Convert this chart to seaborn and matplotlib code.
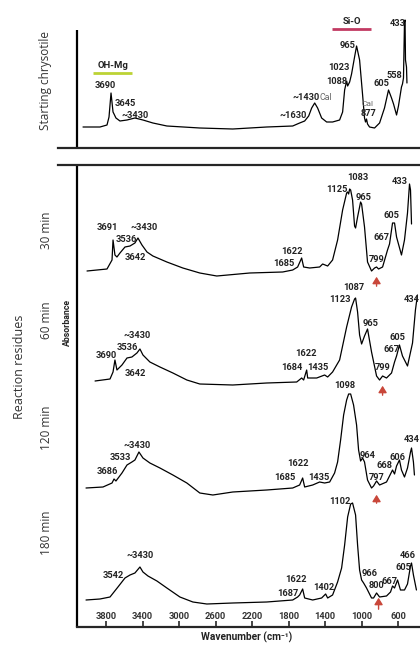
import pandas as pd
import matplotlib
matplotlib.use("Agg")
import matplotlib.pyplot as plt
import seaborn as sns

# wavenumber (cm-1) and absorbance (a.u., from each spectrum's own baseline)
top_wn = [4052, 3866, 3789, 3767, 3745, 3723, 3712, 3691, 3647, 3570, 3483, 3395, 3286, 3133, 2772, 2411, 2039,
          1754, 1678, 1623, 1579, 1546, 1513, 1481, 1437, 1382, 1317, 1240, 1207, 1185, 1163, 1152, 1130, 1109,
          1076, 1054, 1021, 988, 967, 956, 945, 934, 912, 857, 802, 748, 704, 671, 649, 616, 595, 562, 551, 540,
          529, 523, 518, 507, 502]
top_abs = [0.00, 0.00, 0.02, 0.10, 0.34, 0.15, 0.13, 0.09, 0.06, 0.07, 0.09, 0.07, 0.04, 0.01, -0.01, -0.02, 0.00,
           0.01, 0.04, 0.06, 0.11, 0.19, 0.24, 0.19, 0.09, 0.05, 0.05, 0.07, 0.15, 0.37, 0.46, 0.41, 0.45, 0.53,
           0.70, 0.81, 0.67, 0.32, 0.09, 0.05, 0.08, 0.03, 0.00, -0.01, 0.04, 0.19, 0.37, 0.29, 0.23, 0.12, 0.21,
           0.40, 0.43, 0.49, 1.05, 1.07, 0.67, 0.60, 0.44]

m30_wn = [4008, 3789, 3734, 3723, 3702, 3680, 3647, 3592, 3537, 3483, 3450, 3406, 3351, 3286, 3133, 2958, 2772,
          2586, 2225, 1864, 1754, 1700, 1656, 1634, 1568, 1459, 1426, 1371, 1317, 1262, 1207, 1163, 1152, 1141,
          1130, 1119, 1098, 1076, 1065, 1043, 1010, 999, 967, 934, 890, 857, 835, 813, 769, 715, 693, 660, 638,
          616, 562, 529, 496, 474, 463, 452]
m30_abs = [0.00, 0.02, 0.11, 0.31, 0.16, 0.14, 0.18, 0.24, 0.25, 0.28, 0.33, 0.26, 0.19, 0.15, 0.09, 0.03, -0.02,
           -0.05, -0.02, -0.01, 0.01, 0.04, 0.13, 0.04, 0.03, 0.04, 0.07, 0.05, 0.11, 0.31, 0.61, 0.78, 0.79, 0.77,
           0.82, 0.81, 0.71, 0.45, 0.43, 0.54, 0.69, 0.67, 0.44, 0.09, 0.00, 0.03, 0.04, 0.02, 0.04, 0.21, 0.27,
           0.48, 0.48, 0.34, 0.16, 0.31, 0.58, 0.87, 0.81, 0.47]

m60_wn = [3920, 3756, 3723, 3702, 3680, 3625, 3570, 3516, 3461, 3428, 3395, 3319, 3209, 3067, 2914, 2772, 2411,
          2039, 1710, 1656, 1634, 1601, 1590, 1491, 1404, 1371, 1317, 1240, 1163, 1109, 1076, 1065, 1043, 1021,
          999, 967, 934, 890, 835, 802, 769, 726, 671, 638, 616, 584, 551, 496, 441, 409, 387]
m60_abs = [0.00, 0.02, 0.09, 0.21, 0.11, 0.16, 0.23, 0.24, 0.28, 0.32, 0.26, 0.19, 0.14, 0.08, 0.01, -0.03, -0.04,
           -0.02, -0.01, 0.03, 0.01, 0.11, 0.03, 0.03, 0.06, 0.04, 0.09, 0.21, 0.54, 0.74, 0.82, 0.83, 0.69, 0.46,
           0.37, 0.45, 0.52, 0.29, 0.05, 0.01, 0.05, 0.03, 0.08, 0.19, 0.25, 0.36, 0.25, 0.15, 0.38, 0.71, 0.86]

m120_wn = [4019, 3833, 3734, 3712, 3691, 3625, 3570, 3516, 3483, 3439, 3395, 3319, 3209, 3067, 2914, 2772, 2629,
           2411, 2039, 1754, 1678, 1645, 1623, 1535, 1459, 1404, 1349, 1295, 1262, 1229, 1196, 1163, 1141, 1119,
           1087, 1054, 1032, 1010, 988, 967, 934, 890, 868, 835, 802, 726, 682, 660, 638, 616, 584, 562, 529, 496,
           463, 452, 431, 420]
m120_abs = [0.00, 0.01, 0.05, 0.09, 0.07, 0.15, 0.23, 0.26, 0.28, 0.36, 0.30, 0.25, 0.20, 0.13, 0.05, -0.05, -0.07,
            -0.04, -0.02, 0.00, 0.03, 0.10, 0.01, 0.03, 0.06, 0.05, 0.06, 0.15, 0.26, 0.48, 0.73, 0.88, 0.94, 0.94,
            0.83, 0.63, 0.38, 0.27, 0.30, 0.26, 0.08, 0.00, 0.02, 0.07, 0.03, 0.06, 0.14, 0.18, 0.14, 0.22, 0.28,
            0.18, 0.11, 0.20, 0.36, 0.40, 0.26, 0.13]

m180_wn = [4019, 3866, 3756, 3669, 3592, 3537, 3483, 3428, 3395, 3340, 3242, 3133, 2990, 2848, 2695, 2411, 2039,
           1754, 1700, 1678, 1645, 1623, 1535, 1437, 1393, 1371, 1317, 1262, 1218, 1185, 1152, 1119, 1098, 1065,
           1043, 1021, 999, 977, 945, 890, 868, 835, 802, 726, 682, 660, 638, 605, 573, 529, 496, 463, 452, 431, 398]
m180_abs = [0.00, 0.01, 0.03, 0.13, 0.22, 0.25, 0.27, 0.33, 0.28, 0.24, 0.19, 0.12, 0.03, -0.02, -0.04, -0.03, -0.02,
            0.00, 0.03, 0.05, 0.11, 0.02, 0.00, 0.02, 0.06, 0.02, 0.05, 0.18, 0.32, 0.55, 0.83, 0.96, 0.97, 0.85,
            0.55, 0.30, 0.20, 0.17, 0.12, 0.02, 0.02, 0.07, 0.03, 0.04, 0.08, 0.14, 0.12, 0.20, 0.10, 0.10, 0.16,
            0.34, 0.37, 0.25, 0.10]

x_ticks = [3800, 3400, 3000, 2600, 2200, 1800, 1400, 1000, 600]

# peak labels: (text, wavenumber, height in panel units)
top_labels = [("3690", 3811, 0.63), ("3645", 3592, 0.44), ("~3430", 3483, 0.33), ("~1630", 1754, 0.33),
              ("1023", 1251, 0.80), ("1088", 1273, 0.67), ("965", 1152, 1.02), ("877", 923, 0.34),
              ("605", 780, 0.64), ("558", 638, 0.73), ("433", 605, 1.24)]
m30_labels = [("3691", 3789, 4.00), ("~3430", 3384, 4.00), ("3536", 3581, 3.88), ("3642", 3483, 3.70),
              ("1622", 1765, 3.76), ("1685", 1853, 3.64), ("1125", 1273, 4.38), ("1083", 1043, 4.49),
              ("965", 978, 4.30), ("433", 584, 4.45), ("605", 671, 4.12), ("667", 780, 3.89), ("799", 835, 3.68)]
m60_labels = [("1087", 1087, 3.40), ("1123", 1240, 3.27), ("434", 452, 3.27), ("965", 901, 3.03),
              ("605", 605, 2.90), ("667", 671, 2.78), ("799", 769, 2.60), ("~3430", 3461, 2.91),
              ("3690", 3800, 2.72), ("3536", 3570, 2.79), ("3642", 3483, 2.54), ("1622", 1612, 2.73),
              ("1684", 1765, 2.60), ("1435", 1481, 2.60)]
m120_labels = [("1098", 1185, 2.42), ("~3430", 3461, 1.81), ("3533", 3647, 1.69), ("3686", 3789, 1.56),
               ("1622", 1700, 1.63), ("1685", 1842, 1.50), ("1435", 1470, 1.50), ("964", 934, 1.71),
               ("668", 748, 1.62), ("797", 835, 1.50), ("606", 605, 1.70), ("434", 452, 1.87)]
m180_labels = [("1102", 1240, 1.26), ("~3430", 3428, 0.71), ("3542", 3723, 0.52), ("1622", 1722, 0.47),
               ("1687", 1809, 0.34), ("1402", 1415, 0.40), ("966", 912, 0.53), ("800", 835, 0.41),
               ("667", 693, 0.46), ("605", 540, 0.59), ("466", 496, 0.72)]
# red arrows under the ~799 band: (wavenumber, tail, head)
arrows = [(835, 3.38, 3.53), (769, 2.29, 2.44), (835, 1.21, 1.35), (813, 0.15, 0.32)]

sns.set_style("white")
plt.rcParams['font.family'] = ['Roboto', 'DejaVu Sans']

fig = plt.figure(figsize=(4.2, 6.45), dpi=100)
ax_top = fig.add_axes([58 / 420, 1 - 148 / 645, 362 / 420, 148 / 645])
ax_bot = fig.add_axes([58 / 420, 1 - 627 / 645, 362 / 420, (627 - 165) / 645])

spectra = [(ax_top, top_wn, top_abs, 0.21), (ax_bot, m30_wn, m30_abs, 3.56), (ax_bot, m60_wn, m60_abs, 2.46),
           (ax_bot, m120_wn, m120_abs, 1.39), (ax_bot, m180_wn, m180_abs, 0.27)]
for ax, wn, ab, off in spectra:
    df = pd.DataFrame({'wavenumber': wn, 'absorbance': [a + off for a in ab]})
    sns.lineplot(data=df, x='wavenumber', y='absorbance', ax=ax, color='black', lw=0.9,
                 sort=False, estimator=None)

for ax in (ax_top, ax_bot):
    ax.set_xlim(4326, 359)
    ax.set_xlabel('')
    ax.set_ylabel('')
    ax.set_yticks([])
    ax.patch.set_alpha(0)
    for s in ('left', 'right'):
        ax.spines[s].set_visible(False)
ax_top.set_ylim(0, 1.48)
ax_bot.set_ylim(0, 4.62)

ax_top.set_xticks([])
ax_top.spines['top'].set_visible(False)
ax_top.spines['bottom'].set_linewidth(1.6)
ax_top.vlines(4118, 0, 1.18, color='black', lw=1.6)

ax_bot.spines['top'].set_linewidth(1.6)
ax_bot.spines['bottom'].set_linewidth(1.6)
ax_bot.spines['bottom'].set_bounds(4118, 359)
ax_bot.axvline(4118, color='black', lw=1.6)
ax_bot.set_xticks(x_ticks)
ax_bot.set_xticklabels([str(t) for t in x_ticks])
ax_bot.tick_params(axis='x', direction='in', length=4, width=1.2, pad=-10.5, labelsize=6.7,
                   labelcolor='#333333', bottom=True)
for lab in ax_bot.get_xticklabels():
    lab.set_fontweight('bold')

lab_kw = dict(fontsize=6.7, fontweight='bold', color='#222222', ha='center', va='center')
for ax, labels in ((ax_top, top_labels), (ax_bot, m30_labels), (ax_bot, m60_labels),
                   (ax_bot, m120_labels), (ax_bot, m180_labels)):
    for txt, x, y in labels:
        ax.text(x, y, txt, **lab_kw)

# calcite marks in grey
ax_top.text(1459, 0.51, "~1430", fontsize=6.7, fontweight='bold', color='#222222', ha='right', va='center')
ax_top.text(1459, 0.51, "Cal", fontsize=6.3, color='#666666', ha='left', va='center')
ax_top.text(934, 0.445, "Cal", fontsize=6.0, color='#666666', ha='center', va='center')

# band groups
ax_top.text(3723, 0.83, "OH-Mg", fontsize=6.8, fontweight='bold', color='#222222', ha='center', va='center')
ax_top.hlines(0.75, 3942, 3516, color='#bcd334', lw=2)
ax_top.text(1109, 1.26, "Si-O", fontsize=6.8, fontweight='bold', color='#222222', ha='center', va='center')
ax_top.hlines(1.19, 1328, 901, color='#c23a62', lw=2)

for x, y0, y1 in arrows:
    ax_bot.annotate('', xy=(x, y1), xytext=(x, y0),
                    arrowprops=dict(arrowstyle='-|>,head_width=0.25,head_length=0.4',
                                    color='#c9473a', lw=1.0))

side_kw = dict(family=['Open Sans', 'DejaVu Sans'], color='#333333', rotation=90, ha='center', va='center')
fig.text(46 / 420, 1 - 81 / 645, "Starting chrysotile", fontsize=8.5, **side_kw)
fig.text(20 / 420, 1 - 367 / 645, "Reaction residues", fontsize=9, **side_kw)
fig.text(47 / 420, 1 - 230 / 645, "30 min", fontsize=8.5, **side_kw)
fig.text(47 / 420, 1 - 320 / 645, "60 min", fontsize=8.5, **side_kw)
fig.text(47 / 420, 1 - 428 / 645, "120 min", fontsize=8.5, **side_kw)
fig.text(47 / 420, 1 - 533 / 645, "180 min", fontsize=8.5, **side_kw)
fig.text(67 / 420, 1 - 322 / 645, "Absorbance", fontsize=6.3, fontweight='bold', color='#222222',
         rotation=90, ha='center', va='center')
fig.text(247 / 420, 1 - 637 / 645, "Wavenumber (cm\u207b\u00b9)", fontsize=7.3, fontweight='bold',
         color='#222222', ha='center', va='center')

fig.savefig("out.png", dpi=100)
